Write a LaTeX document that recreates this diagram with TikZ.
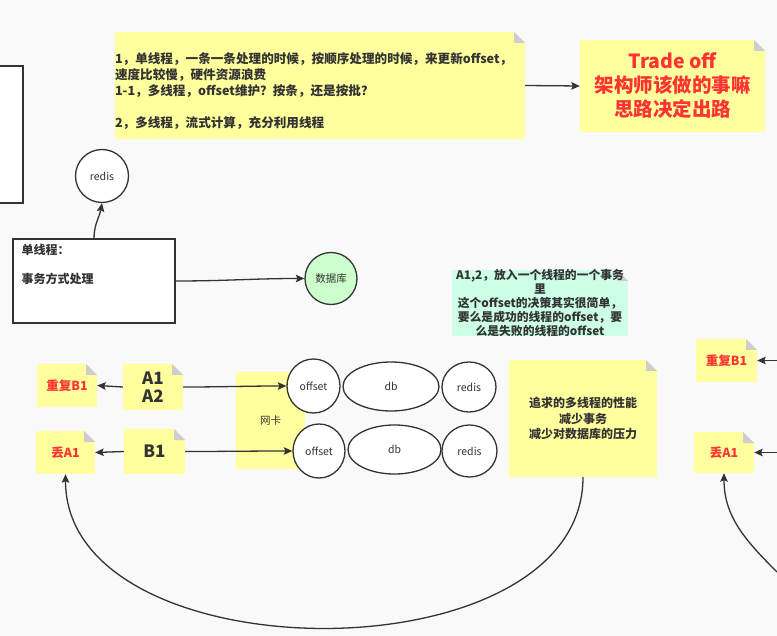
\documentclass[tikz,border=0pt]{standalone}
\usepackage{fontspec}
\setmainfont{Noto Sans CJK SC}
\usetikzlibrary{arrows.meta, shapes.geometric}
\definecolor{bgcol}{HTML}{F9F9F9}
\definecolor{noteyel}{HTML}{FFFF9E}
\definecolor{notegrn}{HTML}{CCFFE6}
\definecolor{dbgrn}{HTML}{CCFFCC}
\definecolor{foldgray}{HTML}{CDCDCD}
\definecolor{ink}{HTML}{333333}
\definecolor{redtxt}{HTML}{FF3333}
\tikzset{
note/.style={fill=noteyel, inner sep=0pt, align=center, text=ink, font=\bfseries, path picture={
\fill[bgcol] ([xshift=-11pt]path picture bounding box.north east) -- (path picture bounding box.north east) -- ([yshift=-11pt]path picture bounding box.north east) -- cycle;
\fill[foldgray] ([xshift=-11pt]path picture bounding box.north east) -- ([xshift=-11pt,yshift=-11pt]path picture bounding box.north east) -- ([yshift=-11pt]path picture bounding box.north east) -- cycle;}},
bub/.style={draw=ink, line width=1.3pt, fill=white, ellipse, inner sep=0pt, text=ink, font=\fontsize{10.5}{12}\selectfont},
wire/.style={draw=ink, line width=1.3pt, ->},
redmark/.style={note, text=redtxt, font=\bfseries\fontsize{12.5}{15}\selectfont},
bigmark/.style={note, font=\bfseries\fontsize{17}{18}\selectfont}
}
\begin{document}
\begin{tikzpicture}[x=1pt, y=1pt, >={Stealth[length=8.5pt, width=7.5pt, inset=1.5pt]}]
\path[use as bounding box, fill=bgcol] (0,0) rectangle (777,-636);
\clip (0,0) rectangle (777,-636);
\node[draw=ink, line width=1.3pt, fill=white, minimum width=40pt, minimum height=137pt] (oldbox) at (3,-134.5) {};
\node[note, text width=410pt, minimum height=107pt, align=left, font=\bfseries\fontsize{12.6}{16}\selectfont] (plan) at (320,-85.5) {\rule{0pt}{22pt}1，单线程，一条一条处理的时候，按顺序处理的时候，来更新offset，\\速度比较慢，硬件资源浪费\\1-1，多线程，offset维护？按条，还是按批？\\[16pt]2，多线程，流式计算，充分利用线程};
\node[note, text=redtxt, minimum width=185pt, minimum height=92pt, font=\bfseries\fontsize{19.5}{24}\selectfont] (tradeoff) at (672.5,-86) {Trade off\\架构师该做的事嘛\\思路决定出路};
\draw[wire] (plan.east) -- (tradeoff.west);
\node[bub, minimum size=53pt] (redis) at (102,-176) {redis};
\node[draw=ink, line width=1.3pt, fill=white, minimum width=162pt, minimum height=84pt] (single) at (94,-281) {};
\node[anchor=north west, align=left, inner sep=0pt, text=ink, font=\bfseries\fontsize{12}{14.5}\selectfont] (singletxt) at ([xshift=9pt, yshift=-6pt]single.north west) {单线程：\\[14.5pt]事务方式处理};
\node[bub, fill=dbgrn, minimum size=52pt] (store) at (331,-278.5) {数据库};
\draw[wire] (single.north) to[out=90, in=-100] (redis.south);
\draw[wire] (single.east) to[out=0, in=180] (store.west);
\node[note, fill=notegrn, minimum width=176pt, minimum height=66pt, font=\bfseries\fontsize{11.8}{13.8}\selectfont] (pick) at (540,-303) {A1,2，放入一个线程的一个事务\\里\\这个offset的决策其实很简单，\\要么是成功的线程的offset，要\\么是失败的线程的offset};
\node[redmark, minimum width=60pt, minimum height=43pt] (dupA) at (67,-385.5) {重复B1};
\node[bigmark, minimum width=60pt, minimum height=46pt] (batchA) at (153,-387) {A1\\A2};
\node[redmark, minimum width=59pt, minimum height=43pt] (lostA) at (65.5,-452.5) {丢A1};
\node[bigmark, minimum width=61pt, minimum height=45pt] (batchB) at (154.5,-451.5) {B1};
\node[note, font=\fontsize{10.5}{12}\selectfont, minimum width=69pt, minimum height=97pt] (nic) at (270.5,-420.5) {网卡};
\node[bub, minimum width=53pt, minimum height=54pt] (offA) at (313.5,-386) {offset};
\node[bub, minimum width=96pt, minimum height=49pt] (dbA) at (391,-386.5) {db};
\node[bub, minimum width=54pt, minimum height=50pt] (redisA) at (469,-387) {redis};
\node[bub, minimum width=52pt, minimum height=54pt] (offB) at (319,-451) {offset};
\node[bub, minimum width=93pt, minimum height=49pt] (dbB) at (394.5,-449.5) {db};
\node[bub, minimum width=55pt, minimum height=52pt] (redisB) at (469.5,-451) {redis};
\node[note, minimum width=148pt, minimum height=117pt, font=\bfseries\fontsize{12}{15.5}\selectfont] (goal) at (583,-418.5) {追求的多线程的性能\\减少事务\\减少对数据库的压力};
\node[redmark, minimum width=61pt, minimum height=43pt] (dupB) at (726.5,-360.5) {重复B1};
\node[redmark, minimum width=60pt, minimum height=41pt] (lostB) at (724,-452.5) {丢A1};
\coordinate (dupBin) at (785,-360.5);
\coordinate (lostBin) at (785,-452.5);
\coordinate (loopB) at (777,-572);
\draw[wire] (batchA.west) -- (dupA.east);
\draw[wire] (batchA.east) to[out=0, in=180] (offA.west);
\draw[wire] (batchB.east) to[out=0, in=180] (offB.west);
\draw[wire] (batchB.west) -- (lostA.east);
\draw[wire] (goal.south) to[out=-90, in=-90] (lostA.south);
\draw[wire] (dupBin) -- (dupB.east);
\draw[wire] (lostBin) -- (lostB.east);
\draw[wire] (loopB) to[out=135, in=-90] (lostB.south);
\end{tikzpicture}
\end{document}
